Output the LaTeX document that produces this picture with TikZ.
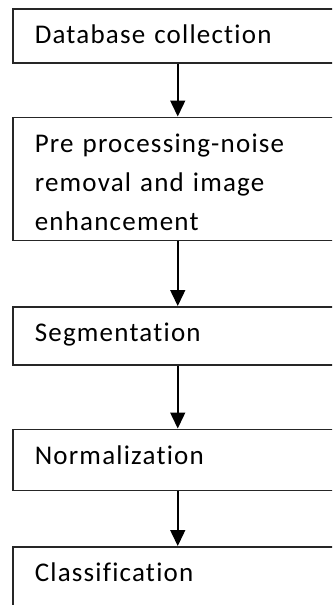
\documentclass[tikz,border=0pt]{standalone}
\usepackage{fontspec}
\setmainfont{Carlito}[Ligatures=NoCommon, LetterSpace=4.5]
\usetikzlibrary{arrows.meta,positioning}
\begin{document}
\begin{tikzpicture}[
  >={Triangle[width=15pt,length=16pt]},
  node distance=60pt,
  stage/.style={rectangle, draw=black!85, line width=1.5pt, text width=286pt, inner xsep=22pt, inner ysep=0pt, text height=35pt, align=left, font={\fontsize{27}{39}\selectfont}},
  line/.style={->, line width=1.5pt}
]
\useasboundingbox (0,0) rectangle (332pt,-605pt);
\clip (0,0) rectangle (332pt,-605pt);
% Stages (top to bottom)
\node[stage, text depth=19pt, anchor=north west] (db) at (12pt,-8pt) {Database collection};
\node[stage, text depth=88pt, below=53pt of db] (prep) {Pre processing-noise\\removal and image\\enhancement};
\node[stage, text depth=23pt, below=65pt of prep] (seg) {Segmentation};
\node[stage, text depth=26pt, below=63pt of seg] (norm) {Normalization};
\node[stage, text depth=45pt, below=55pt of norm] (cls) {Classification};

% Arrows
\draw[line] (db) -- (prep);
\draw[line] (prep) -- (seg);
\draw[line] (seg) -- (norm);
\draw[line] (norm) -- (cls);
\end{tikzpicture}
\end{document}
